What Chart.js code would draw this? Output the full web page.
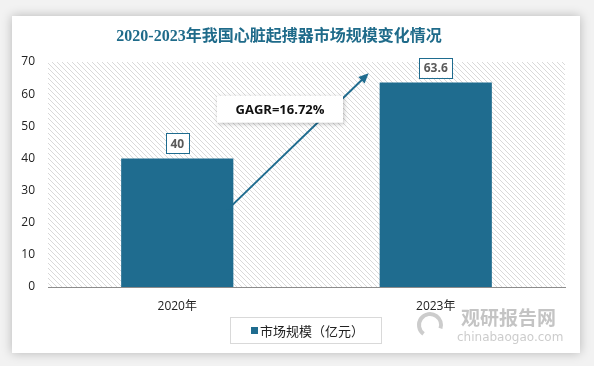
<!DOCTYPE html>
<html>
<head>
<meta charset="utf-8">
<script src="https://cdn.jsdelivr.net/npm/chart.js@4"></script>
<style>
  html, body { margin: 0; padding: 0; background: #f2f2f2; }
  #wrap { width: 594px; height: 366px; position: relative; }
</style>
</head>
<body>
<div id="wrap"><canvas id="chart" width="594" height="366"></canvas></div>
<script>
// Data
const years = ['2020年', '2023年'];
const marketSize = [40, 63.6];
const yTicks = [0, 10, 20, 30, 40, 50, 60, 70];
const seriesName = '市场规模（亿元）';
const titleText = '2020-2023年我国心脏起搏器市场规模变化情况';
const cagrText = 'GAGR=16.72%';

const BAR_COLOR = '#1f6c8f';
const TITLE_COLOR = '#1f6b8a';
const CJK = '"Noto Sans CJK SC"';

// hatch pattern for plot area
function makeHatch() {
    const c = document.createElement('canvas');
    c.width = 5; c.height = 5;
    const g = c.getContext('2d');
    g.fillStyle = '#d9d9d9';
    for (let i = 0; i < 5; i++) {
        g.fillRect(i, i, 1, 1);
    }
    return c;
}

// background card, hatch, title
const backdrop = {
    id: 'backdrop',
    beforeDraw(chart) {
        const ctx = chart.ctx;
        const a = chart.chartArea;
        ctx.save();
        ctx.fillStyle = '#f2f2f2';
        ctx.fillRect(0, 0, chart.width, chart.height);
        ctx.shadowColor = 'rgba(0,0,0,0.25)';
        ctx.shadowBlur = 10;
        ctx.fillStyle = '#ffffff';
        ctx.fillRect(12, 16, 568, 337);
        ctx.restore();

        ctx.save();
        ctx.fillStyle = ctx.createPattern(makeHatch(), 'repeat');
        ctx.fillRect(a.left, a.top, a.right - a.left, a.bottom - a.top);
        ctx.restore();

        ctx.save();
        ctx.font = 'bold 16px "Liberation Serif", ' + CJK;
        ctx.fillStyle = TITLE_COLOR;
        ctx.textAlign = 'center';
        ctx.textBaseline = 'middle';
        ctx.fillText(titleText, 279, 37);
        ctx.restore();
    }
};

// value labels, arrow, CAGR box, legend, watermark
const overlay = {
    id: 'overlay',
    afterDatasetsDraw(chart) {
        const ctx = chart.ctx;
        const meta = chart.getDatasetMeta(0);
        const ys = chart.scales.y;

        // value boxes
        ctx.save();
        ctx.font = 'bold 12px "Open Sans", "Liberation Sans"';
        ctx.textAlign = 'center';
        ctx.textBaseline = 'middle';
        meta.data.forEach((bar, i) => {
            const txt = String(marketSize[i]);
            const w = ctx.measureText(txt).width + 9;
            const h = 20;
            const cy = bar.y - 15;
            ctx.fillStyle = '#ffffff';
            ctx.fillRect(bar.x - w / 2, cy - h / 2, w, h);
            ctx.strokeStyle = BAR_COLOR;
            ctx.lineWidth = 1;
            ctx.strokeRect(Math.round(bar.x - w / 2) + 0.5, Math.round(cy - h / 2) + 0.5, Math.round(w), h);
            ctx.fillStyle = '#595959';
            ctx.fillText(txt, bar.x, cy + 1);
        });
        ctx.restore();

        // arrow
        const b0 = meta.data[0], b1 = meta.data[1];
        const x0 = b0.x + b0.width / 2 - 6, y0 = ys.getPixelForValue(24);
        const x1 = b1.x - b1.width / 2 - 11, y1 = ys.getPixelForValue(66.5);
        const ang = Math.atan2(y1 - y0, x1 - x0);
        ctx.save();
        ctx.strokeStyle = BAR_COLOR;
        ctx.fillStyle = BAR_COLOR;
        ctx.lineWidth = 2;
        ctx.beginPath();
        ctx.moveTo(x0, y0);
        ctx.lineTo(x1 - 6 * Math.cos(ang), y1 - 6 * Math.sin(ang));
        ctx.stroke();
        ctx.beginPath();
        ctx.moveTo(x1, y1);
        ctx.lineTo(x1 - 10 * Math.cos(ang) + 4.5 * Math.sin(ang), y1 - 10 * Math.sin(ang) - 4.5 * Math.cos(ang));
        ctx.lineTo(x1 - 10 * Math.cos(ang) - 4.5 * Math.sin(ang), y1 - 10 * Math.sin(ang) + 4.5 * Math.cos(ang));
        ctx.closePath();
        ctx.fill();
        ctx.restore();

        // CAGR box
        const bx = 217, by = ys.getPixelForValue(59.5), bw = 126, bh = 27;
        ctx.save();
        ctx.shadowColor = 'rgba(0,0,0,0.25)';
        ctx.shadowBlur = 4;
        ctx.shadowOffsetX = 1;
        ctx.shadowOffsetY = 1;
        ctx.fillStyle = '#ffffff';
        ctx.fillRect(bx, by, bw, bh);
        ctx.restore();
        ctx.save();
        ctx.font = 'bold 13px "Open Sans", "Liberation Sans"';
        ctx.fillStyle = '#111111';
        ctx.textAlign = 'center';
        ctx.textBaseline = 'middle';
        ctx.fillText(cagrText, bx + bw / 2, by + bh / 2 + 1);
        ctx.restore();

        // legend
        ctx.save();
        ctx.strokeStyle = '#d9d9d9';
        ctx.lineWidth = 1;
        ctx.strokeRect(230.5, 317.5, 151, 26);
        ctx.fillStyle = BAR_COLOR;
        ctx.fillRect(251, 327, 7, 7);
        ctx.font = '13px ' + CJK;
        ctx.fillStyle = '#222222';
        ctx.textBaseline = 'middle';
        ctx.fillText(seriesName, 260, 331);
        ctx.restore();

        // watermark
        ctx.save();
        ctx.globalAlpha = 0.5;
        ctx.strokeStyle = '#9a9a9a';
        ctx.lineWidth = 4;
        ctx.beginPath();
        ctx.arc(430, 325, 11, Math.PI * 0.7, Math.PI * 2.1);
        ctx.stroke();
        ctx.font = 'bold 19px ' + CJK;
        ctx.fillStyle = '#8a8a8a';
        ctx.textBaseline = 'middle';
        ctx.fillText('观研报告网', 461, 318);
        ctx.font = '12px "DejaVu Sans"';
        ctx.fillStyle = '#9a9a9a';
        ctx.fillText('chinabaogao.com', 457, 338);
        ctx.restore();
    }
};

const ctx = document.getElementById('chart').getContext('2d');
new Chart(ctx, {
    type: 'bar',
    data: {
        labels: years,
        datasets: [{
            label: seriesName,
            data: marketSize,
            backgroundColor: BAR_COLOR,
            borderWidth: 0,
            categoryPercentage: 1,
            barPercentage: 0.434
        }]
    },
    options: {
        responsive: false,
        animation: false,
        layout: { padding: { left: 0, right: 29, top: 62, bottom: 39 } },
        plugins: {
            legend: { display: false },
            title: { display: false },
            tooltip: { enabled: false }
        },
        scales: {
            x: {
                grid: { display: false, drawTicks: false },
                border: { display: true, color: '#8c8c8c', width: 1 },
                ticks: {
                    color: '#222222',
                    padding: 12,
                    font: { family: '"Open Sans", ' + CJK, size: 12 }
                },
                afterFit(scale) { scale.height = 40; }
            },
            y: {
                min: 0,
                max: 70,
                afterBuildTicks(scale) { scale.ticks = yTicks.map(v => ({ value: v })); },
                grid: { display: false, drawTicks: false },
                border: { display: false },
                ticks: {
                    color: '#222222',
                    padding: 13,
                    font: { family: '"Open Sans", "Liberation Sans"', size: 12 }
                },
                afterFit(scale) { scale.width = 48; }
            }
        }
    },
    plugins: [backdrop, overlay]
});
</script>
</body>
</html>
